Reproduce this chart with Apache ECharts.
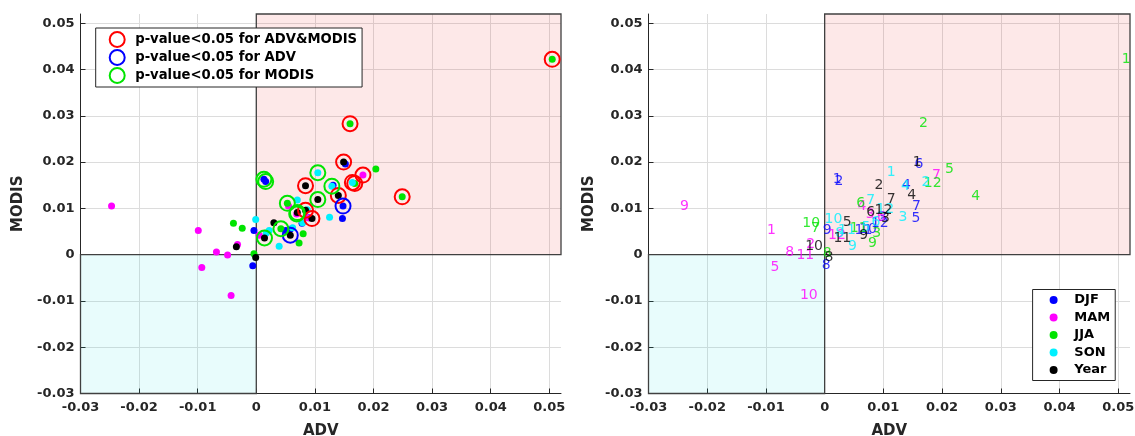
<!DOCTYPE html>
<html><head><meta charset="utf-8">
<script src="https://cdn.jsdelivr.net/npm/echarts@6/dist/echarts.min.js"></script>
<style>html,body{margin:0;padding:0;background:#fff}#chart{width:1135px;height:436px}</style>
</head><body><div id="chart"></div>
<script>
// ---- data ----
const seasons = ['DJF', 'MAM', 'JJA', 'SON', 'Year'];
const stationLabels = ['1','2','3','4','5','6','7','8','9','10','11','12'];

const advDJF   = [0.0013, 0.0016, 0.0090, 0.0131, 0.0147, 0.0152, 0.0148, -0.0006, -0.0004, 0.0058, 0.0050, 0.0078];
const modisDJF = [0.0163, 0.0158, 0.0080, 0.0150, 0.0078, 0.0196, 0.0105, -0.0024, 0.0052, 0.0055, 0.0052, 0.0068];
const advMAM   = [-0.0099, -0.0032, 0.0069, 0.0055, -0.0093, 0.0088, 0.0182, -0.0068, -0.0247, -0.0043, -0.0049, 0.0005];
const modisMAM = [0.0052, 0.0022, 0.0088, 0.0105, -0.0028, 0.0080, 0.0172, 0.0006, 0.0105, -0.0088, -0.0001, 0.0042];
const advJJA   = [0.0505, 0.0160, 0.0080, 0.0249, 0.0204, 0.0053, -0.0024, -0.0004, 0.0073, -0.0039, 0.0042, 0.0168];
const modisJJA = [0.0422, 0.0283, 0.0045, 0.0125, 0.0185, 0.0111, 0.0057, 0.0002, 0.0025, 0.0068, 0.0056, 0.0154];
const advSON   = [0.0105, 0.0164, 0.0125, 0.0129, 0.0062, 0.0079, 0.0070, 0.0017, 0.0039, -0.0001, 0.0022, 0.0087];
const modisSON = [0.0177, 0.0156, 0.0081, 0.0148, 0.0058, 0.0069, 0.0118, 0.0047, 0.0018, 0.0076, 0.0052, 0.0097];
const advYear  = [0.0149, 0.0084, 0.0095, 0.0140, 0.0030, 0.0070, 0.0105, -0.0001, 0.0058, -0.0034, 0.0014, 0.0084];
const modisYear= [0.0200, 0.0149, 0.0078, 0.0128, 0.0069, 0.0091, 0.0119, -0.0006, 0.0042, 0.0017, 0.0036, 0.0096];

// significance: B = ADV&MODIS, A = ADV only, M = MODIS only
const sigDJF  = ['M','M','','','','','A','','','','',''];
const sigMAM  = ['','','M','','','','B','','','','',''];
const sigJJA  = ['B','B','','B','','M','','','','','M','B'];
const sigSON  = ['M','B','','M','','','','','','','',''];
const sigYear = ['B','B','B','B','','M','M','','A','','M','B'];

const ringNames = ['p-value<0.05 for ADV&MODIS', 'p-value<0.05 for ADV', 'p-value<0.05 for MODIS'];
const ringCodes = ['B', 'A', 'M'];
const axisTicks = [-0.03, -0.02, -0.01, 0, 0.01, 0.02, 0.03, 0.04, 0.05];
const AXIS_MIN = -0.03, AXIS_MAX = 0.052;

// ---- styles ----
const seasonColors = ['#0000ff', '#ff00ff', '#00e400', '#00f0ff', '#000000'];
const ringColors = ['#ff0000', '#0000ff', '#00e400'];
const dark = '#262626';
const FONT = 'DejaVu Sans';

const advAll = [advDJF, advMAM, advJJA, advSON, advYear];
const modisAll = [modisDJF, modisMAM, modisJJA, modisSON, modisYear];
const sigAll = [sigDJF, sigMAM, sigJJA, sigSON, sigYear];

function fmt(v) { const r = Math.round(v * 100) / 100; return r === 0 ? '0' : String(r); }

function xAxisCfg(g) {
  return {
    type: 'value', gridIndex: g, min: AXIS_MIN, max: AXIS_MAX,
    name: 'ADV', nameLocation: 'middle', nameGap: 30,
    nameTextStyle: { fontWeight: 'bold', fontSize: 15, color: dark, fontFamily: FONT },
    axisLine: { show: true, onZero: false, lineStyle: { color: dark, width: 1 } },
    axisTick: { show: true, inside: true, length: 5, customValues: axisTicks, lineStyle: { color: dark } },
    axisLabel: { customValues: axisTicks, formatter: fmt, fontWeight: 'bold', fontSize: 13, color: dark, margin: 8, fontFamily: FONT },
    splitLine: { show: true, lineStyle: { color: '#dcdcdc', width: 1 } }
  };
}
function yAxisCfg(g, gap) {
  return {
    type: 'value', gridIndex: g, min: AXIS_MIN, max: AXIS_MAX,
    name: 'MODIS', nameLocation: 'middle', nameGap: gap,
    nameTextStyle: { fontWeight: 'bold', fontSize: 15, color: dark, fontFamily: FONT },
    axisLine: { show: true, onZero: false, lineStyle: { color: dark, width: 1 } },
    axisTick: { show: true, inside: true, length: 5, customValues: axisTicks, lineStyle: { color: dark } },
    axisLabel: { customValues: axisTicks, formatter: fmt, fontWeight: 'bold', fontSize: 13, color: dark, margin: 6, fontFamily: FONT },
    splitLine: { show: true, lineStyle: { color: '#dcdcdc', width: 1 } }
  };
}

function shadeSeries(g) {
  return {
    type: 'scatter', xAxisIndex: g, yAxisIndex: g, data: [], z: 1, silent: true,
    markArea: {
      silent: true,
      data: [
        [{ xAxis: 0, yAxis: 0, itemStyle: { color: 'rgba(235,0,0,0.09)', borderColor: '#404040', borderWidth: 1.3 } },
         { xAxis: AXIS_MAX, yAxis: AXIS_MAX }],
        [{ xAxis: AXIS_MIN, yAxis: AXIS_MIN, itemStyle: { color: 'rgba(0,225,225,0.09)', borderColor: '#404040', borderWidth: 1.3 } },
         { xAxis: 0, yAxis: 0 }]
      ]
    }
  };
}

const series = [shadeSeries(0), shadeSeries(1)];

seasons.forEach((s, i) => {
  series.push({
    name: s, type: 'scatter', xAxisIndex: 0, yAxisIndex: 0, z: 3,
    symbol: 'circle', symbolSize: 7,
    itemStyle: { color: seasonColors[i], opacity: 1 },
    data: advAll[i].map((a, k) => [a, modisAll[i][k]])
  });
});

ringCodes.forEach((code, r) => {
  const pts = [];
  seasons.forEach((s, i) => {
    sigAll[i].forEach((c, k) => { if (c === code) pts.push([advAll[i][k], modisAll[i][k]]); });
  });
  series.push({
    name: ringNames[r], type: 'scatter', xAxisIndex: 0, yAxisIndex: 0, z: 4,
    symbol: 'circle', symbolSize: 15,
    itemStyle: { color: 'rgba(0,0,0,0)', borderColor: ringColors[r], borderWidth: 2, opacity: 1 },
    data: pts
  });
});

seasons.forEach((s, i) => {
  series.push({
    name: s, type: 'scatter', xAxisIndex: 1, yAxisIndex: 1, z: 3,
    symbol: 'circle', symbolSize: 1,
    itemStyle: { color: 'rgba(0,0,0,0)' },
    label: {
      show: true, position: 'right', distance: 0,
      formatter: p => p.value[2],
      color: seasonColors[i], fontSize: 14, fontFamily: FONT
    },
    data: advAll[i].map((a, k) => [a, modisAll[i][k], stationLabels[k]])
  });
});

const option = {
  animation: false,
  backgroundColor: '#fff',
  grid: [
    { left: 80.5, top: 14, width: 480.5, height: 379.5, outerBoundsMode: 'none', containLabel: false },
    { left: 648.5, top: 14, width: 481.5, height: 379.5, outerBoundsMode: 'none', containLabel: false }
  ],
  xAxis: [xAxisCfg(0), xAxisCfg(1)],
  yAxis: [yAxisCfg(0, 55), yAxisCfg(1, 52)],
  legend: [
    {
      data: ringNames.map((n, r) => ({ name: n, icon: 'circle',
        itemStyle: { color: 'rgba(0,0,0,0)', borderColor: ringColors[r], borderWidth: 2 } })),
      orient: 'vertical', left: 95.7, top: 28,
      itemWidth: 26, itemHeight: 15, itemGap: 1,
      padding: [3, 5, 3, 13],
      borderColor: dark, borderWidth: 1, backgroundColor: '#fff',
      selectedMode: false,
      textStyle: { fontWeight: 'bold', fontSize: 13.2, lineHeight: 15, color: '#000', fontFamily: FONT }
    },
    {
      data: seasons.map((n, i) => ({ name: n, icon: 'circle', itemStyle: { color: seasonColors[i], opacity: 1 } })),
      orient: 'vertical', left: 1032.6, top: 289.5,
      itemWidth: 31.4, itemHeight: 8, itemGap: 2.5,
      padding: [3, 5, 3, 17],
      borderColor: dark, borderWidth: 1, backgroundColor: '#fff',
      selectedMode: false,
      textStyle: { fontWeight: 'bold', fontSize: 13, lineHeight: 15, color: '#000', fontFamily: FONT }
    }
  ],
  series: series
};

const chart = echarts.init(document.getElementById('chart'), null, { renderer: 'canvas' });
chart.setOption(option);
</script>
</body></html>
